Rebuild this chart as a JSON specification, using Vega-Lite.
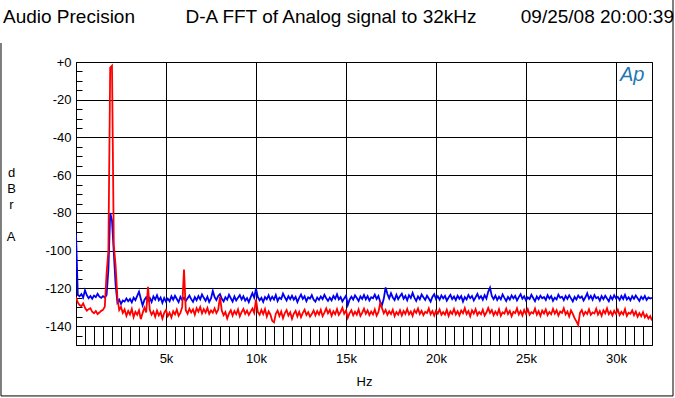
{
"$schema": "https://vega.github.io/schema/vega-lite/v6.json",
"width": 576, "height": 283,
"autosize": {"type": "none"},
"padding": {"left": 76, "top": 62, "right": 23, "bottom": 53},
"background": "white",
"config": {"view": {"stroke": "black", "strokeWidth": 1}, "font": "Liberation Sans"},
"data": {"values": [
{"f":0,"b":-91,"r":-124.7},{"f":100,"b":-123.5,"r":-127.5},{"f":200,"b":-124.2,"r":-128.8},{"f":300,"b":-123.0,"r":-129.5},{"f":400,"b":-124.8,"r":-128.0},
{"f":500,"b":-121.0,"r":-130.3},{"f":600,"b":-123.6,"r":-131.8},{"f":700,"b":-125.2,"r":-131.0},{"f":800,"b":-124.0,"r":-130.5},{"f":900,"b":-125.5,"r":-132.4},
{"f":1000,"b":-123.8,"r":-133.2},{"f":1100,"b":-124.6,"r":-132.0},{"f":1200,"b":-122.9,"r":-133.6},{"f":1300,"b":-124.4,"r":-132.8},{"f":1400,"b":-125.0,"r":-131.9},
{"f":1500,"b":-124.1,"r":-131.4},{"f":1600,"b":-124.8,"r":-129.7},{"f":1700,"b":-123.5,"r":-112},{"f":1800,"b":-110,"r":-100},{"f":1900,"b":-80,"r":-3},
{"f":2000,"b":-84,"r":-2},{"f":2100,"b":-101,"r":-97},{"f":2200,"b":-118,"r":-108},{"f":2300,"b":-127.5,"r":-125},{"f":2400,"b":-126.0,"r":-131.5},
{"f":2500,"b":-128.2,"r":-129.8},{"f":2600,"b":-126.4,"r":-133.0},{"f":2700,"b":-127.0,"r":-131.2},{"f":2800,"b":-125.3,"r":-134.6},{"f":2900,"b":-126.8,"r":-132.0},
{"f":3000,"b":-125.6,"r":-133.8},{"f":3100,"b":-127.4,"r":-130.9},{"f":3200,"b":-124.9,"r":-135.2},{"f":3300,"b":-126.2,"r":-132.4},{"f":3400,"b":-124.0,"r":-134.0},
{"f":3500,"b":-121.8,"r":-131.6},{"f":3600,"b":-125.5,"r":-136.3},{"f":3700,"b":-129.0,"r":-133.1},{"f":3800,"b":-126.1,"r":-130.2},{"f":3900,"b":-124.7,"r":-132.8},
{"f":4000,"b":-126.5,"r":-119.2},{"f":4100,"b":-125.0,"r":-131.5},{"f":4200,"b":-127.2,"r":-133.9},{"f":4300,"b":-124.3,"r":-132.2},{"f":4400,"b":-125.9,"r":-135.0},
{"f":4500,"b":-123.6,"r":-131.8},{"f":4600,"b":-126.3,"r":-134.3},{"f":4700,"b":-124.8,"r":-132.6},{"f":4800,"b":-127.6,"r":-136.0},{"f":4900,"b":-125.1,"r":-133.0},
{"f":5000,"b":-127.0,"r":-131.4},{"f":5100,"b":-125.4,"r":-134.7},{"f":5200,"b":-126.8,"r":-132.9},{"f":5300,"b":-124.2,"r":-135.4},{"f":5400,"b":-126.0,"r":-132.1},
{"f":5500,"b":-123.9,"r":-133.8},{"f":5600,"b":-125.6,"r":-131.2},{"f":5700,"b":-127.3,"r":-134.5},{"f":5800,"b":-124.5,"r":-133.0},{"f":5900,"b":-126.1,"r":-129.8},
{"f":6000,"b":-124.9,"r":-110},{"f":6100,"b":-126.7,"r":-131.6},{"f":6200,"b":-125.2,"r":-133.4},{"f":6300,"b":-123.8,"r":-130.8},{"f":6400,"b":-125.7,"r":-132.7},
{"f":6500,"b":-127.1,"r":-131.1},{"f":6600,"b":-124.6,"r":-133.9},{"f":6700,"b":-126.3,"r":-130.5},{"f":6800,"b":-124.1,"r":-132.3},{"f":6900,"b":-125.8,"r":-129.9},
{"f":7000,"b":-123.2,"r":-133.2},{"f":7100,"b":-125.0,"r":-131.0},{"f":7200,"b":-126.6,"r":-132.8},{"f":7300,"b":-124.4,"r":-130.4},{"f":7400,"b":-127.2,"r":-133.5},
{"f":7500,"b":-125.3,"r":-131.7},{"f":7600,"b":-121.4,"r":-132.9},{"f":7700,"b":-124.6,"r":-130.6},{"f":7800,"b":-126.2,"r":-133.1},{"f":7900,"b":-124.0,"r":-131.3},
{"f":8000,"b":-123.0,"r":-124.3},{"f":8100,"b":-125.5,"r":-131.8},{"f":8200,"b":-126.9,"r":-134.2},{"f":8300,"b":-124.7,"r":-132.5},{"f":8400,"b":-126.0,"r":-136.0},
{"f":8500,"b":-123.4,"r":-133.3},{"f":8600,"b":-125.2,"r":-131.6},{"f":8700,"b":-127.0,"r":-134.4},{"f":8800,"b":-124.3,"r":-132.0},{"f":8900,"b":-126.4,"r":-133.7},
{"f":9000,"b":-125.0,"r":-131.2},{"f":9100,"b":-123.6,"r":-134.8},{"f":9200,"b":-125.9,"r":-132.6},{"f":9300,"b":-124.2,"r":-130.9},{"f":9400,"b":-126.5,"r":-133.5},
{"f":9500,"b":-125.1,"r":-131.8},{"f":9600,"b":-127.3,"r":-134.1},{"f":9700,"b":-124.8,"r":-132.3},{"f":9800,"b":-122.5,"r":-130.7},{"f":9900,"b":-124.9,"r":-133.0},
{"f":10000,"b":-120.2,"r":-126.0},{"f":10100,"b":-124.5,"r":-132.5},{"f":10200,"b":-126.3,"r":-134.0},{"f":10300,"b":-125.0,"r":-131.4},{"f":10400,"b":-127.1,"r":-133.6},
{"f":10500,"b":-124.6,"r":-131.0},{"f":10600,"b":-125.8,"r":-134.9},{"f":10700,"b":-123.7,"r":-132.2},{"f":10800,"b":-126.2,"r":-133.8},{"f":10900,"b":-124.4,"r":-137.2},
{"f":11000,"b":-125.9,"r":-138.0},{"f":11100,"b":-123.5,"r":-133.5},{"f":11200,"b":-126.7,"r":-131.8},{"f":11300,"b":-124.9,"r":-134.6},{"f":11400,"b":-125.6,"r":-132.3},
{"f":11500,"b":-122.8,"r":-135.8},{"f":11600,"b":-124.7,"r":-133.1},{"f":11700,"b":-126.4,"r":-131.5},{"f":11800,"b":-124.1,"r":-134.4},{"f":11900,"b":-125.7,"r":-132.7},
{"f":12000,"b":-123.9,"r":-136.1},{"f":12100,"b":-126.0,"r":-133.4},{"f":12200,"b":-124.5,"r":-131.9},{"f":12300,"b":-127.2,"r":-134.8},{"f":12400,"b":-125.0,"r":-132.4},
{"f":12500,"b":-123.3,"r":-135.3},{"f":12600,"b":-125.6,"r":-133.0},{"f":12700,"b":-124.2,"r":-131.3},{"f":12800,"b":-126.8,"r":-134.1},{"f":12900,"b":-124.7,"r":-132.6},
{"f":13000,"b":-125.4,"r":-135.0},{"f":13100,"b":-123.6,"r":-133.6},{"f":13200,"b":-125.9,"r":-131.7},{"f":13300,"b":-127.0,"r":-134.3},{"f":13400,"b":-124.8,"r":-132.0},
{"f":13500,"b":-126.1,"r":-133.9},{"f":13600,"b":-124.3,"r":-131.4},{"f":13700,"b":-125.7,"r":-134.7},{"f":13800,"b":-123.4,"r":-132.8},{"f":13900,"b":-125.2,"r":-130.6},
{"f":14000,"b":-126.6,"r":-133.2},{"f":14100,"b":-124.9,"r":-131.5},{"f":14200,"b":-126.3,"r":-134.5},{"f":14300,"b":-124.0,"r":-132.1},{"f":14400,"b":-125.5,"r":-133.7},
{"f":14500,"b":-123.1,"r":-131.0},{"f":14600,"b":-125.8,"r":-134.0},{"f":14700,"b":-124.6,"r":-132.5},{"f":14800,"b":-126.9,"r":-130.3},{"f":14900,"b":-125.3,"r":-133.4},
{"f":15000,"b":-123.8,"r":-131.8},{"f":15100,"b":-128.8,"r":-135.6},{"f":15200,"b":-126.0,"r":-133.1},{"f":15300,"b":-124.4,"r":-131.6},{"f":15400,"b":-125.9,"r":-134.2},
{"f":15500,"b":-123.7,"r":-132.4},{"f":15600,"b":-125.1,"r":-133.9},{"f":15700,"b":-126.7,"r":-131.2},{"f":15800,"b":-124.2,"r":-134.6},{"f":15900,"b":-125.6,"r":-132.9},
{"f":16000,"b":-123.5,"r":-130.8},{"f":16100,"b":-125.8,"r":-133.5},{"f":16200,"b":-124.1,"r":-131.7},{"f":16300,"b":-126.4,"r":-134.1},{"f":16400,"b":-124.7,"r":-132.3},
{"f":16500,"b":-125.2,"r":-133.8},{"f":16600,"b":-123.3,"r":-131.1},{"f":16700,"b":-125.6,"r":-134.4},{"f":16800,"b":-124.0,"r":-132.6},{"f":16900,"b":-127.2,"r":-127.8},
{"f":17000,"b":-128.9,"r":-130.5},{"f":17100,"b":-125.4,"r":-133.2},{"f":17200,"b":-119.5,"r":-131.4},{"f":17300,"b":-123.0,"r":-134.0},{"f":17400,"b":-125.3,"r":-132.1},
{"f":17500,"b":-122.6,"r":-133.6},{"f":17600,"b":-124.8,"r":-131.3},{"f":17700,"b":-126.2,"r":-134.7},{"f":17800,"b":-123.4,"r":-132.5},{"f":17900,"b":-125.7,"r":-133.9},
{"f":18000,"b":-124.1,"r":-131.6},{"f":18100,"b":-122.8,"r":-134.3},{"f":18200,"b":-125.5,"r":-132.0},{"f":18300,"b":-124.0,"r":-133.5},{"f":18400,"b":-126.3,"r":-130.9},
{"f":18500,"b":-123.6,"r":-133.8},{"f":18600,"b":-125.1,"r":-132.2},{"f":18700,"b":-122.4,"r":-134.5},{"f":18800,"b":-124.9,"r":-131.5},{"f":18900,"b":-126.6,"r":-133.0},
{"f":19000,"b":-124.3,"r":-130.7},{"f":19100,"b":-125.8,"r":-133.6},{"f":19200,"b":-123.2,"r":-131.9},{"f":19300,"b":-124.7,"r":-134.2},{"f":19400,"b":-126.1,"r":-132.4},
{"f":19500,"b":-123.9,"r":-133.1},{"f":19600,"b":-125.4,"r":-130.6},{"f":19700,"b":-127.0,"r":-133.7},{"f":19800,"b":-124.5,"r":-132.0},{"f":19900,"b":-123.1,"r":-134.4},
{"f":20000,"b":-125.6,"r":-131.8},{"f":20100,"b":-124.2,"r":-133.3},{"f":20200,"b":-126.0,"r":-131.2},{"f":20300,"b":-123.7,"r":-134.0},{"f":20400,"b":-125.3,"r":-132.6},
{"f":20500,"b":-124.0,"r":-133.9},{"f":20600,"b":-126.5,"r":-131.4},{"f":20700,"b":-124.8,"r":-134.6},{"f":20800,"b":-123.4,"r":-132.2},{"f":20900,"b":-125.7,"r":-133.5},
{"f":21000,"b":-124.3,"r":-130.9},{"f":21100,"b":-126.2,"r":-133.8},{"f":21200,"b":-123.9,"r":-132.1},{"f":21300,"b":-125.5,"r":-134.3},{"f":21400,"b":-124.1,"r":-131.7},
{"f":21500,"b":-127.0,"r":-133.2},{"f":21600,"b":-124.6,"r":-130.5},{"f":21700,"b":-125.9,"r":-133.6},{"f":21800,"b":-123.5,"r":-132.0},{"f":21900,"b":-125.2,"r":-134.8},
{"f":22000,"b":-124.0,"r":-131.6},{"f":22100,"b":-126.4,"r":-133.4},{"f":22200,"b":-124.7,"r":-131.0},{"f":22300,"b":-122.9,"r":-134.1},{"f":22400,"b":-125.3,"r":-132.5},
{"f":22500,"b":-124.1,"r":-133.7},{"f":22600,"b":-126.0,"r":-131.3},{"f":22700,"b":-123.6,"r":-134.4},{"f":22800,"b":-125.4,"r":-132.8},{"f":22900,"b":-121.8,"r":-130.4},
{"f":23000,"b":-119.6,"r":-133.0},{"f":23100,"b":-124.0,"r":-131.5},{"f":23200,"b":-125.7,"r":-134.2},{"f":23300,"b":-123.8,"r":-132.3},{"f":23400,"b":-126.1,"r":-133.9},
{"f":23500,"b":-124.4,"r":-131.1},{"f":23600,"b":-125.8,"r":-134.5},{"f":23700,"b":-123.2,"r":-132.7},{"f":23800,"b":-125.0,"r":-133.4},{"f":23900,"b":-126.7,"r":-130.8},
{"f":24000,"b":-124.5,"r":-133.6},{"f":24100,"b":-125.9,"r":-131.9},{"f":24200,"b":-123.7,"r":-134.7},{"f":24300,"b":-125.3,"r":-132.4},{"f":24400,"b":-124.0,"r":-133.1},
{"f":24500,"b":-126.4,"r":-130.6},{"f":24600,"b":-124.6,"r":-133.8},{"f":24700,"b":-123.1,"r":-132.0},{"f":24800,"b":-125.5,"r":-134.3},{"f":24900,"b":-124.2,"r":-131.4},
{"f":25000,"b":-126.3,"r":-133.5},{"f":25100,"b":-124.8,"r":-131.0},{"f":25200,"b":-125.6,"r":-134.0},{"f":25300,"b":-123.4,"r":-132.6},{"f":25400,"b":-125.1,"r":-133.2},
{"f":25500,"b":-126.8,"r":-130.7},{"f":25600,"b":-124.3,"r":-133.9},{"f":25700,"b":-125.7,"r":-132.1},{"f":25800,"b":-123.9,"r":-134.6},{"f":25900,"b":-125.2,"r":-131.8},
{"f":26000,"b":-124.6,"r":-133.3},{"f":26100,"b":-126.1,"r":-131.2},{"f":26200,"b":-123.6,"r":-134.1},{"f":26300,"b":-125.4,"r":-132.5},{"f":26400,"b":-124.1,"r":-133.7},
{"f":26500,"b":-126.6,"r":-130.9},{"f":26600,"b":-124.9,"r":-133.4},{"f":26700,"b":-125.8,"r":-131.6},{"f":26800,"b":-123.3,"r":-134.4},{"f":26900,"b":-125.0,"r":-132.2},
{"f":27000,"b":-124.4,"r":-133.0},{"f":27100,"b":-126.2,"r":-130.5},{"f":27200,"b":-124.0,"r":-133.8},{"f":27300,"b":-125.6,"r":-132.3},{"f":27400,"b":-123.7,"r":-134.9},
{"f":27500,"b":-125.3,"r":-131.7},{"f":27600,"b":-126.9,"r":-133.5},{"f":27700,"b":-124.5,"r":-135.8},{"f":27800,"b":-125.9,"r":-137.5},{"f":27900,"b":-123.8,"r":-139.4},
{"f":28000,"b":-125.1,"r":-133.0},{"f":28100,"b":-124.3,"r":-131.5},{"f":28200,"b":-126.4,"r":-134.2},{"f":28300,"b":-124.7,"r":-132.4},{"f":28400,"b":-122.6,"r":-133.6},
{"f":28500,"b":-125.5,"r":-131.1},{"f":28600,"b":-124.0,"r":-134.0},{"f":28700,"b":-126.0,"r":-132.7},{"f":28800,"b":-123.5,"r":-133.3},{"f":28900,"b":-125.2,"r":-130.8},
{"f":29000,"b":-124.6,"r":-133.9},{"f":29100,"b":-126.5,"r":-132.0},{"f":29200,"b":-124.1,"r":-134.5},{"f":29300,"b":-125.7,"r":-131.6},{"f":29400,"b":-123.9,"r":-133.2},
{"f":29500,"b":-125.4,"r":-130.6},{"f":29600,"b":-126.8,"r":-133.7},{"f":29700,"b":-124.2,"r":-132.2},{"f":29800,"b":-125.8,"r":-134.3},{"f":29900,"b":-123.6,"r":-131.9},
{"f":30000,"b":-125.3,"r":-133.5},{"f":30100,"b":-124.5,"r":-131.3},{"f":30200,"b":-126.2,"r":-134.1},{"f":30300,"b":-124.0,"r":-132.5},{"f":30400,"b":-125.6,"r":-133.8},
{"f":30500,"b":-123.4,"r":-131.0},{"f":30600,"b":-125.9,"r":-134.6},{"f":30700,"b":-124.7,"r":-132.9},{"f":30800,"b":-126.3,"r":-133.4},{"f":30900,"b":-124.1,"r":-131.7},
{"f":31000,"b":-125.5,"r":-134.2},{"f":31100,"b":-123.8,"r":-132.3},{"f":31200,"b":-125.2,"r":-135.0},{"f":31300,"b":-126.6,"r":-133.1},{"f":31400,"b":-124.4,"r":-134.8},
{"f":31500,"b":-125.7,"r":-132.6},{"f":31600,"b":-124.0,"r":-135.3},{"f":31700,"b":-126.1,"r":-133.9},{"f":31800,"b":-124.8,"r":-136.0},{"f":31900,"b":-125.4,"r":-134.7},
{"f":32000,"b":-125.0,"r":-137.0}
]},
"layer": [
{
"mark": {"type": "line", "color": "#0000f0", "strokeWidth": 1.8, "clip": true},
"encoding": {
"x": {"field": "f", "type": "quantitative", "scale": {"domain": [0, 32000], "nice": false, "zero": false},
"axis": {"title": "Hz", "tickCount": 200, "values": [0,500,1000,1500,2000,2500,3000,3500,4000,4500,5000,5500,6000,6500,7000,7500,8000,8500,9000,9500,10000,10500,11000,11500,12000,12500,13000,13500,14000,14500,15000,15500,16000,16500,17000,17500,18000,18500,19000,19500,20000,20500,21000,21500,22000,22500,23000,23500,24000,24500,25000,25500,26000,26500,27000,27500,28000,28500,29000,29500,30000,30500,31000,31500,32000],
"labelExpr": "datum.value % 5000 === 0 && datum.value > 0 ? (datum.value / 1000) + 'k' : ''",
"labelOverlap": false, "labelFlush": false, "labelFont": "Liberation Sans", "labelFontSize": 13, "labelColor": "black",
"labelPadding": 26, "tickSize": -19, "tickColor": "black", "tickWidth": 1,
"domain": false, "grid": true, "gridColor": "black", "gridWidth": 1,
"gridOpacity": {"condition": {"test": "datum.value % 5000 === 0", "value": 1}, "value": 0},
"titleFont": "Liberation Sans", "titleFontSize": 13, "titleFontWeight": "normal", "titleColor": "black",
"titleBaseline": "top", "titleY": 30}},
"y": {"field": "b", "type": "quantitative", "scale": {"domain": [-150, 0], "nice": false, "zero": false},
"axis": {"title": ["d", "B", "r"], "tickCount": 200, "values": [-145,-140,-135,-130,-125,-120,-115,-110,-105,-100,-95,-90,-85,-80,-75,-70,-65,-60,-55,-50,-45,-40,-35,-30,-25,-20,-15,-10,-5,0],
"labelExpr": "datum.value % 20 === 0 ? (datum.value === 0 ? '+0' : datum.value + '') : ''",
"labelOverlap": false, "labelFlush": false, "labelFont": "Liberation Sans", "labelFontSize": 13, "labelColor": "black",
"labelPadding": 11, "tickSize": -6, "tickColor": "black", "tickWidth": 1,
"domain": false, "grid": true, "gridColor": "black", "gridWidth": 1,
"gridOpacity": {"condition": {"test": "datum.value % 20 === 0", "value": 1}, "value": 0},
"titleFont": "Liberation Sans", "titleFontSize": 13, "titleFontWeight": "normal", "titleColor": "black",
"titleAngle": 0, "titleAlign": "center", "titleBaseline": "top", "titleX": -65, "titleY": 104, "titleLineHeight": 16}}
}
},
{
"mark": {"type": "line", "color": "#ff0000", "strokeWidth": 1.8, "clip": true},
"encoding": {
"x": {"field": "f", "type": "quantitative"},
"y": {"field": "r", "type": "quantitative"}
}
},
{
"data": {"values": [{"t": "A"}]},
"mark": {"type": "text", "align": "center", "baseline": "top", "fontSize": 13, "font": "Liberation Sans", "color": "black", "clip": false},
"encoding": {"x": {"datum": -3611}, "y": {"datum": -89.6}, "text": {"field": "t"}}
},
{
"data": {"values": [{"t": "Audio Precision"}]},
"mark": {"type": "text", "align": "left", "baseline": "alphabetic", "fontSize": 19, "font": "Liberation Sans", "color": "black", "clip": false},
"encoding": {"x": {"datum": -4056}, "y": {"datum": 20.7}, "text": {"field": "t"}}
},
{
"data": {"values": [{"t": "D-A FFT of Analog signal to 32kHz"}]},
"mark": {"type": "text", "align": "center", "baseline": "alphabetic", "fontSize": 19, "font": "Liberation Sans", "color": "black", "clip": false},
"encoding": {"x": {"datum": 14167}, "y": {"datum": 20.7}, "text": {"field": "t"}}
},
{
"data": {"values": [{"t": "09/25/08 20:00:39"}]},
"mark": {"type": "text", "align": "right", "baseline": "alphabetic", "fontSize": 19, "font": "Liberation Sans", "color": "black", "clip": false},
"encoding": {"x": {"datum": 33220}, "y": {"datum": 20.7}, "text": {"field": "t"}}
},
{
"data": {"values": [{"t": "Ap"}]},
"mark": {"type": "text", "align": "center", "baseline": "middle", "fontSize": 20, "font": "Liberation Sans", "fontStyle": "italic", "color": "#1f78b4", "clip": false},
"encoding": {"x": {"datum": 30900}, "y": {"datum": -7}, "text": {"field": "t"}}
},
{
"data": {"values": [{}]},
"mark": {"type": "rule", "color": "black", "strokeWidth": 1, "clip": false},
"encoding": {"x": {"datum": -4167}, "y": {"datum": 10.07}, "y2": {"datum": -177}}
},
{
"data": {"values": [{}]},
"mark": {"type": "rule", "color": "black", "strokeWidth": 1, "clip": false},
"encoding": {"x": {"datum": 33167}, "y": {"datum": 32.9}, "y2": {"datum": -177}}
},
{
"data": {"values": [{}]},
"mark": {"type": "rule", "color": "black", "strokeWidth": 1, "clip": false},
"encoding": {"x": {"datum": -4167}, "x2": {"datum": 33167}, "y": {"datum": -177}}
}
]
}
